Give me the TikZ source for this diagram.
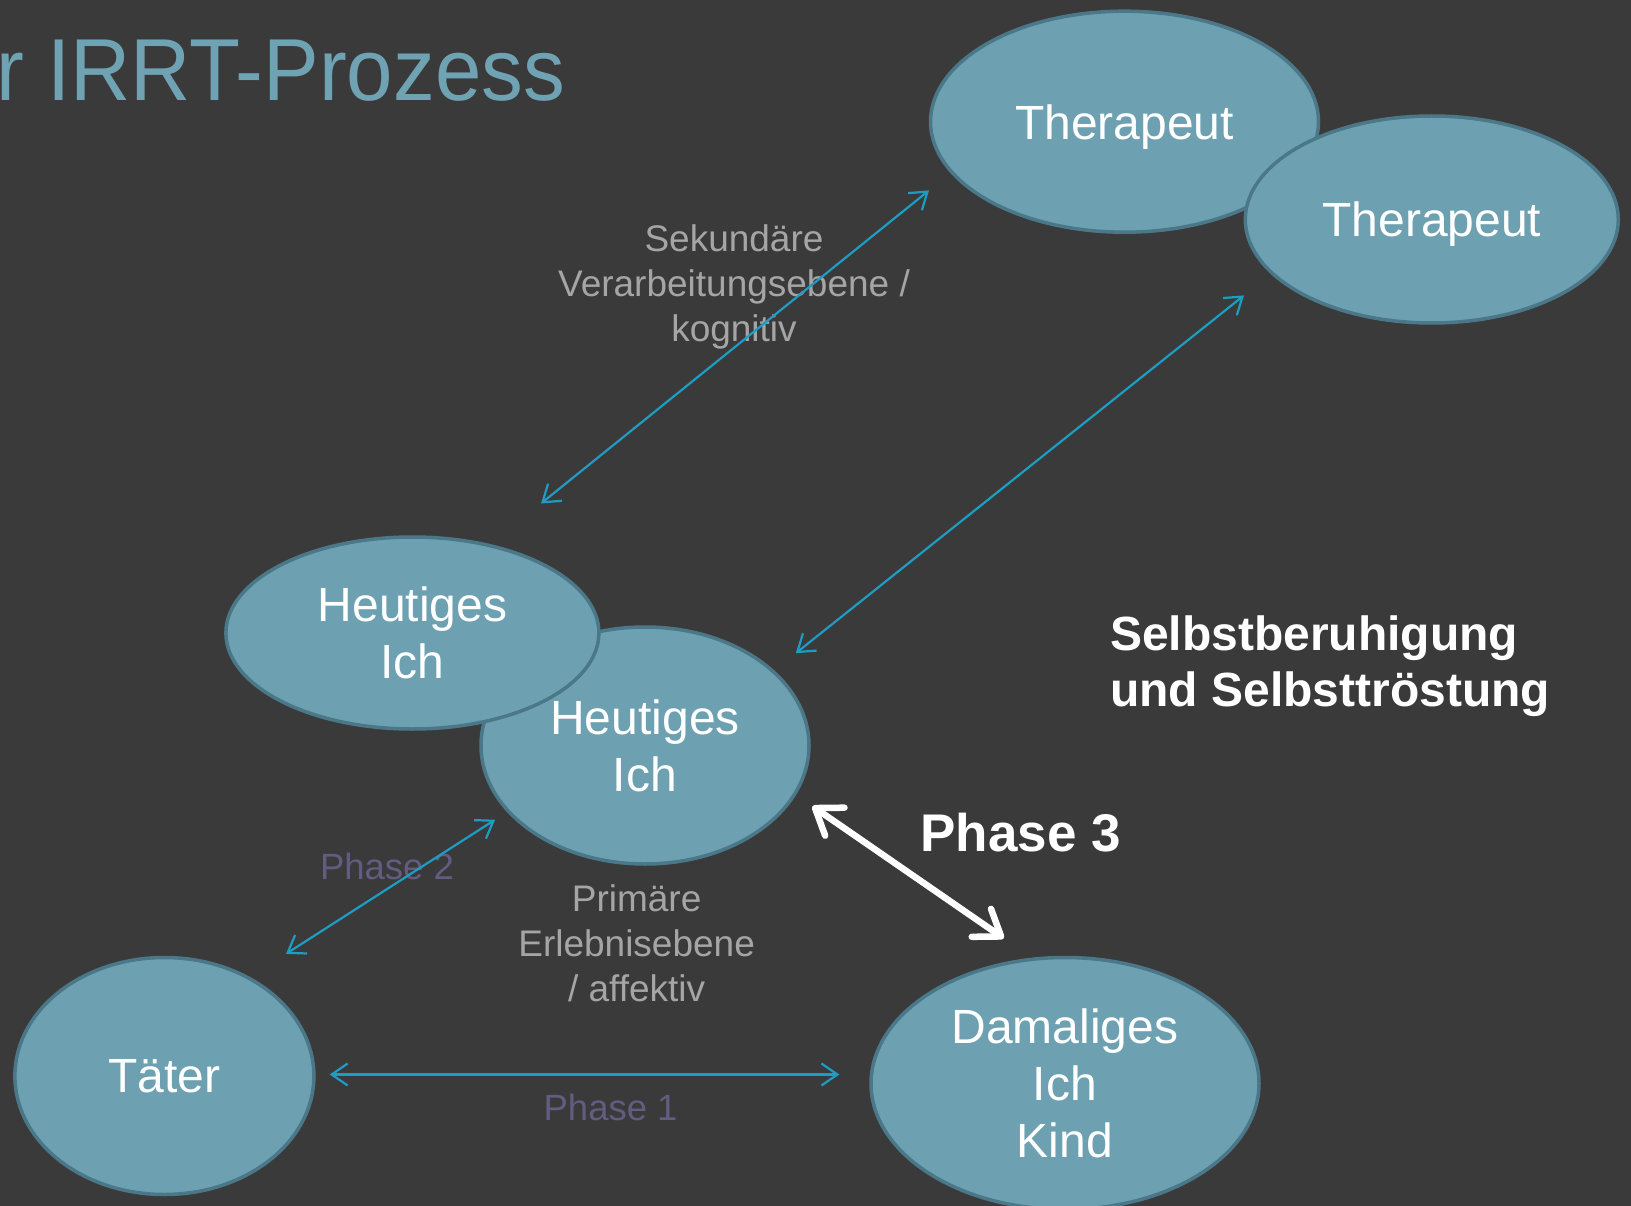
\documentclass[tikz,border=0pt]{standalone}
\usepackage{fontspec}
\setmainfont{Liberation Sans}
\usetikzlibrary{shapes.geometric,arrows.meta}
\definecolor{bg}{HTML}{3A3A3A}
\definecolor{blobfill}{HTML}{6DA1B1}
\definecolor{blobedge}{HTML}{4B7889}
\definecolor{linkblue}{HTML}{1F9CC3}
\definecolor{labelgray}{HTML}{A5A5A5}
\definecolor{phasegray}{HTML}{625C80}
\definecolor{titleblue}{HTML}{6FA3B4}
\begin{document}
\begin{tikzpicture}[x=1pt,y=-1pt,
  blob/.style={ellipse, draw=blobedge, line width=3.5pt, fill=blobfill,
    inner sep=0pt, text=white, align=center, font=\fontsize{48}{57}\selectfont},
  link/.style={draw=linkblue, line width=2.2pt,
    {Straight Barb[length=16pt,width=22pt]}-{Straight Barb[length=16pt,width=22pt]}},
  bigarrow/.style={draw=white, line width=6.5pt,
    {Straight Barb[length=24pt,width=34pt,round]}-{Straight Barb[length=24pt,width=34pt,round]}},
  graylabel/.style={text=labelgray, align=center, inner sep=0pt,
    font=\fontsize{37}{44.8}\selectfont},
  phaselabel/.style={text=phasegray, inner sep=0pt, font=\fontsize{36.5}{43}\selectfont},
  boldlabel/.style={text=white, inner sep=0pt, font=\bfseries\fontsize{48}{56}\selectfont}
]
\useasboundingbox (0,0) rectangle (1631,1206);
\begin{scope}
\clip (0,0) rectangle (1631,1206);
\fill[bg] (0,0) rectangle (1631,1206);

% heading
\node[anchor=base west, inner sep=0pt, text=titleblue,
  font=\fontsize{88}{100}\selectfont] (title) at (-4,101)
  {\scalebox{0.948}[1]{r IRRT-Prozess}};

% persons
\node[blob, text depth=0pt, minimum width=388pt, minimum height=221pt] (ther1) at (1124.5,121.7) {Therapeut};
\node[blob, text depth=0pt, minimum width=373pt, minimum height=207pt] (ther2) at (1431.8,219.5) {Therapeut};
\node[blob, minimum width=328pt, minimum height=237pt] (heute2) at (645,745.5) {Heutiges\\Ich};
\node[blob, minimum width=373pt, minimum height=192pt] (heute1) at (412.4,633) {Heutiges\\Ich};
\node[blob, minimum width=299pt, minimum height=237pt] (taeter) at (164.4,1076) {Täter};
\node[blob, minimum width=388pt, minimum height=252pt] (kind) at (1065,1083.5) {Damaliges\\Ich\\Kind};

% level and phase labels
\node[graylabel] (sek) at (734,287) {Sekundäre\\Verarbeitungsebene /\\kognitiv};
\node[graylabel] (prim) at (636.6,943) {Primäre\\Erlebnisebene\\/ affektiv};
\node[phaselabel] (ph2) at (387,866.5) {Phase 2};
\node[phaselabel] (ph1) at (610.6,1107.8) {Phase 1};
\node[boldlabel, font=\bfseries\fontsize{53}{60}\selectfont] (ph3) at (1020.5,833) {Phase 3};
\node[boldlabel, anchor=west, align=left] (selbst) at (1110,666)
  {Selbstberuhigung\\und Selbsttröstung};

% connector ends
\coordinate (sekLow) at (541,503.5);
\coordinate (sekHigh) at (929,190.4);
\coordinate (terLow) at (795.8,653.2);
\coordinate (terHigh) at (1244,295.4);
\coordinate (p2Low) at (286,953.9);
\coordinate (p2High) at (495.1,819.7);
\coordinate (p1Left) at (329.7,1074.5);
\coordinate (p1Right) at (839.4,1074.5);
\coordinate (p3Top) at (812.4,806.2);
\coordinate (p3Bottom) at (1003.8,938.3);

% connectors
\draw[link] (sekLow) -- (sekHigh);
\draw[link] (terLow) -- (terHigh);
\draw[link] (p2Low) -- (p2High);
\draw[link] (p1Left) -- (p1Right);
\draw[bigarrow] (p3Top) -- (p3Bottom);
\end{scope}
\end{tikzpicture}
\end{document}
